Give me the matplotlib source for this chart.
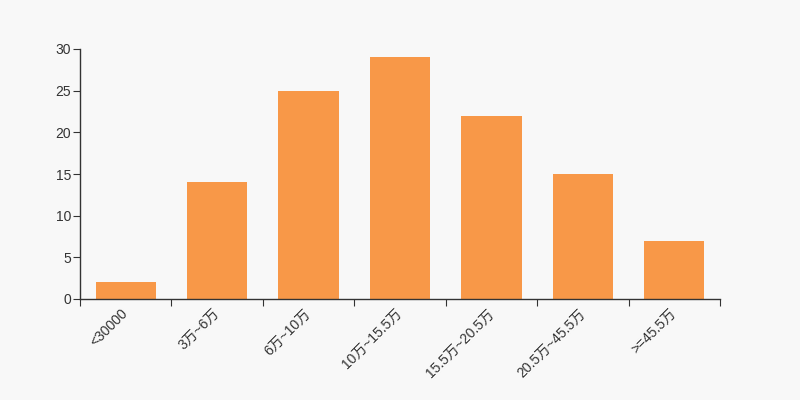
import matplotlib
matplotlib.use("Agg")
import matplotlib.pyplot as plt
import numpy as np

# ---------------------------------------------------------------------------
# Data
# ---------------------------------------------------------------------------

categories = ["<30000", "3万~6万", "6万~10万", "10万~15.5万",
              "15.5万~20.5万", "20.5万~45.5万", ">=45.5万"]
counts = [2, 14, 25, 29, 22, 15, 7]
y_ticks = [0, 5, 10, 15, 20, 25, 30]

BG = "#f8f8f8"
BAR = "#f89848"
TEXT = "#333333"

plt.rcParams["font.family"] = ["Liberation Sans", "Noto Sans CJK SC", "DejaVu Sans"]

fig = plt.figure(figsize=(8, 4), dpi=100, facecolor=BG)
ax = fig.add_axes([0.1, 0.2525, 0.8, 0.625], facecolor=BG)

x = np.arange(len(categories))
ax.bar(x, counts, width=0.66, color=BAR)

ax.set_xlim(-0.5, len(categories) - 0.5)
ax.set_ylim(0, 30)
ax.set_yticks(y_ticks)
ax.set_yticklabels([str(v) for v in y_ticks], fontsize=10, color=TEXT)

# ticks on the band boundaries, labels at the band centres
ax.set_xticks(np.arange(len(categories) + 1) - 0.5)
ax.set_xticklabels([])
ax.set_xticks(x, minor=True)
ax.set_xticklabels(categories, minor=True, rotation=45, ha="right",
                   va="center", rotation_mode="anchor", fontsize=10, color=TEXT)
ax.tick_params(axis="x", which="minor", length=0, pad=9)
ax.tick_params(axis="x", which="major", length=5, color=TEXT, direction="out")
ax.tick_params(axis="y", length=5, color=TEXT, pad=1.5)

for s in ["top", "right"]:
    ax.spines[s].set_visible(False)
for s in ["left", "bottom"]:
    ax.spines[s].set_color(TEXT)
    ax.spines[s].set_linewidth(1)

fig.savefig("out.png", dpi=100, facecolor=BG)
